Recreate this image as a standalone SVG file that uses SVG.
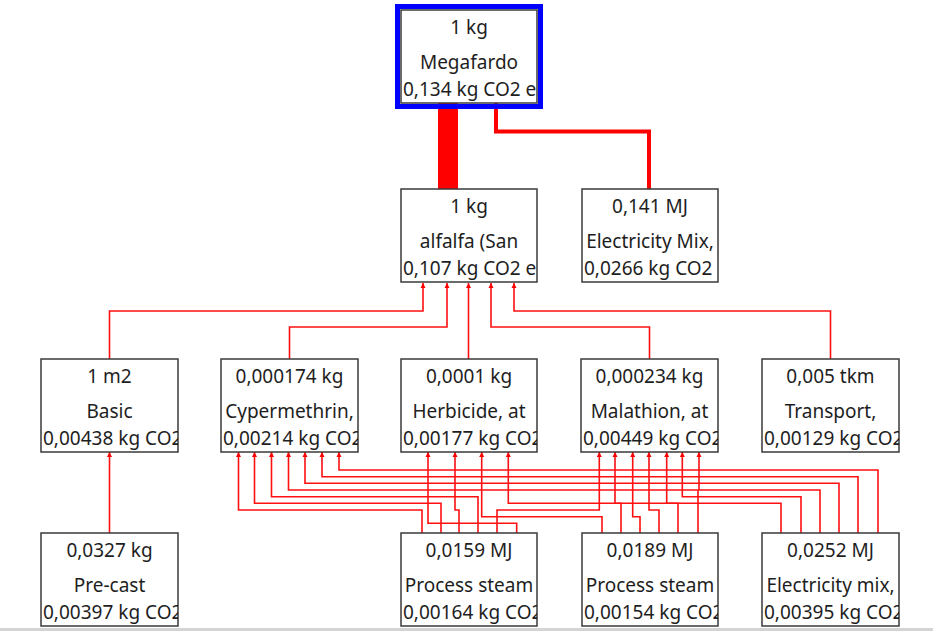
<svg xmlns="http://www.w3.org/2000/svg" width="933" height="631" viewBox="0 0 933 631">
<style>
.box{fill:#fff;stroke:#3a3a3a;stroke-width:1.5}
.t{font-family:"Noto Sans","Open Sans","DejaVu Sans",sans-serif;font-size:19px;fill:#1e1e1e;text-anchor:middle}
.s{text-anchor:start}
.ln{fill:none;stroke:#ff1010;stroke-width:1.6;marker-end:url(#ar)}
</style>
<defs>
<marker id="ar" markerUnits="userSpaceOnUse" markerWidth="6" markerHeight="6" refX="5" refY="3" orient="auto"><path d="M0,0.5 L5,3 L0,5.5 z" fill="#ff0000"/></marker>
<clipPath id="c1"><rect x="401" y="10" width="136" height="93"/></clipPath>
<clipPath id="c2a"><rect x="401" y="189" width="136" height="93"/></clipPath>
<clipPath id="c2b"><rect x="582" y="189" width="136" height="93"/></clipPath>
<clipPath id="c3a"><rect x="41" y="359" width="137" height="93"/></clipPath>
<clipPath id="c3b"><rect x="221" y="359" width="137" height="93"/></clipPath>
<clipPath id="c3c"><rect x="401" y="359" width="136" height="93"/></clipPath>
<clipPath id="c3d"><rect x="581" y="359" width="137" height="93"/></clipPath>
<clipPath id="c3e"><rect x="762" y="359" width="137" height="93"/></clipPath>
<clipPath id="c4a"><rect x="41" y="533" width="137" height="93"/></clipPath>
<clipPath id="c4b"><rect x="401" y="533" width="136" height="93"/></clipPath>
<clipPath id="c4c"><rect x="582" y="533" width="136" height="93"/></clipPath>
<clipPath id="c4d"><rect x="762" y="533" width="137" height="93"/></clipPath>
</defs>
<rect x="0" y="0" width="933" height="631" fill="#fff"/>
<rect x="0" y="628" width="933" height="3" fill="#d4d4d4"/>

<g id="connectors">
<rect x="438" y="103" width="20" height="86" fill="#ff0000"/>
<path d="M649,189 V131.5 H496 V103" fill="none" stroke="#ff0000" stroke-width="4"/>
<path class="ln" d="M109.5,359 V311 H423 V283"/>
<path class="ln" d="M289.5,359 V327 H447 V283"/>
<path class="ln" d="M468.5,359 V283"/>
<path class="ln" d="M649.5,359 V327 H491 V283"/>
<path class="ln" d="M830.5,359 V311 H514 V283"/>
<path class="ln" d="M109.5,533 V452"/>
<path class="ln" d="M422,533 V510 H238.5 V452"/>
<path class="ln" d="M441,533 V503.3 H254.5 V452"/>
<path class="ln" d="M478,533 V496.7 H271.5 V452"/>
<path class="ln" d="M698,533 V490 H288.5 V452"/>
<path class="ln" d="M839,533 V483.3 H305 V452"/>
<path class="ln" d="M858,533 V476.7 H322 V452"/>
<path class="ln" d="M878,533 V470 H339 V452"/>
<path class="ln" d="M516.7,533 V523.3 H428 V452"/>
<path class="ln" d="M459,533 V510 H455 V452"/>
<path class="ln" d="M602,533 V516.7 H481.7 V452"/>
<path class="ln" d="M781,533 V503.3 H508.3 V452"/>
<path class="ln" d="M497,533 V510 H599.3 V452"/>
<path class="ln" d="M621,533 V503.3 H615 V452"/>
<path class="ln" d="M640,533 V516.7 H632.7 V452"/>
<path class="ln" d="M659,533 V510 H649 V452"/>
<path class="ln" d="M678,533 V503.3 H666.7 V452"/>
<path class="ln" d="M801,533 V496.7 H682.3 V452"/>
<path class="ln" d="M820,533 V490 H699 V452"/>
</g>

<g id="n-megafardo">
<rect x="397.5" y="6.5" width="143" height="100" fill="none" stroke="#0000ff" stroke-width="5"/>
<rect class="box" x="401" y="10" width="136" height="93"/>
<text class="t" x="469" y="34">1 kg</text>
<text class="t" x="469" y="68.5">Megafardo</text>
<text class="t s" x="403" y="95.5" clip-path="url(#c1)">0,134 kg CO2 e</text>
</g>

<g id="n-alfalfa">
<rect class="box" x="401" y="189" width="136" height="93"/>
<text class="t" x="469" y="213">1 kg</text>
<text class="t" x="469" y="247.5">alfalfa (San</text>
<text class="t s" x="403" y="274.5" clip-path="url(#c2a)">0,107 kg CO2 e</text>
</g>

<g id="n-elecmix">
<rect class="box" x="582" y="189" width="136" height="93"/>
<text class="t" x="650" y="213">0,141 MJ</text>
<text class="t" x="650" y="247.5">Electricity Mix,</text>
<text class="t s" x="584" y="274.5" clip-path="url(#c2b)">0,0266 kg CO2</text>
</g>

<g id="n-basic">
<rect class="box" x="41" y="359" width="137" height="93"/>
<text class="t" x="109.5" y="383">1 m2</text>
<text class="t" x="109.5" y="417.5">Basic</text>
<text class="t s" x="43" y="444.5" clip-path="url(#c3a)">0,00438 kg CO2</text>
</g>

<g id="n-cypermethrin">
<rect class="box" x="221" y="359" width="137" height="93"/>
<text class="t" x="289.5" y="383">0,000174 kg</text>
<text class="t" x="289.5" y="417.5">Cypermethrin,</text>
<text class="t s" x="223" y="444.5" clip-path="url(#c3b)">0,00214 kg CO2</text>
</g>

<g id="n-herbicide">
<rect class="box" x="401" y="359" width="136" height="93"/>
<text class="t" x="469" y="383">0,0001 kg</text>
<text class="t" x="469" y="417.5">Herbicide, at</text>
<text class="t s" x="403" y="444.5" clip-path="url(#c3c)">0,00177 kg CO2</text>
</g>

<g id="n-malathion">
<rect class="box" x="581" y="359" width="137" height="93"/>
<text class="t" x="649.5" y="383">0,000234 kg</text>
<text class="t" x="649.5" y="417.5">Malathion, at</text>
<text class="t s" x="583" y="444.5" clip-path="url(#c3d)">0,00449 kg CO2</text>
</g>

<g id="n-transport">
<rect class="box" x="762" y="359" width="137" height="93"/>
<text class="t" x="830.5" y="383">0,005 tkm</text>
<text class="t" x="830.5" y="417.5">Transport,</text>
<text class="t s" x="764" y="444.5" clip-path="url(#c3e)">0,00129 kg CO2</text>
</g>

<g id="n-precast">
<rect class="box" x="41" y="533" width="137" height="93"/>
<text class="t" x="109.5" y="557">0,0327 kg</text>
<text class="t" x="109.5" y="591.5">Pre-cast</text>
<text class="t s" x="43" y="618.5" clip-path="url(#c4a)">0,00397 kg CO2</text>
</g>

<g id="n-steam1">
<rect class="box" x="401" y="533" width="136" height="93"/>
<text class="t" x="469" y="557">0,0159 MJ</text>
<text class="t" x="469" y="591.5">Process steam</text>
<text class="t s" x="403" y="618.5" clip-path="url(#c4b)">0,00164 kg CO2</text>
</g>

<g id="n-steam2">
<rect class="box" x="582" y="533" width="136" height="93"/>
<text class="t" x="650" y="557">0,0189 MJ</text>
<text class="t" x="650" y="591.5">Process steam</text>
<text class="t s" x="584" y="618.5" clip-path="url(#c4c)">0,00154 kg CO2</text>
</g>

<g id="n-elecmix2">
<rect class="box" x="762" y="533" width="137" height="93"/>
<text class="t" x="830.5" y="557">0,0252 MJ</text>
<text class="t" x="830.5" y="591.5">Electricity mix,</text>
<text class="t s" x="764" y="618.5" clip-path="url(#c4d)">0,00395 kg CO2</text>
</g>
</svg>
